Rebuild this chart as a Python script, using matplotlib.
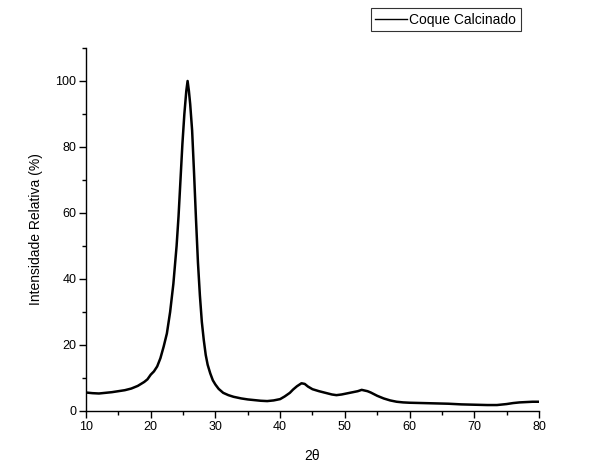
import matplotlib
matplotlib.use("Agg")
import matplotlib.pyplot as plt
from matplotlib.ticker import MultipleLocator

plt.rcParams['font.family'] = ['Liberation Sans', 'DejaVu Sans']

two_theta = [10, 11, 12, 13, 14, 15, 16, 17, 18, 19, 19.5, 20, 20.5, 21, 21.5,
             22, 22.5, 23, 23.5, 24, 24.3, 24.6, 24.9, 25.2, 25.5, 25.7, 25.9,
             26.1, 26.4, 26.7, 27.0, 27.3, 27.6, 27.9, 28.2, 28.5, 28.8, 29.2,
             29.6, 30.0, 30.5, 31.2, 32.0, 32.8, 34, 35, 36, 37, 38, 39, 40,
             40.7, 41.5, 42, 42.6, 43.3, 43.8, 44.3, 45, 46, 47, 48, 48.7, 49.5,
             50, 51, 52, 52.6, 53.5, 54, 55, 56, 57, 58, 59, 60, 62, 64, 66, 68,
             70, 72, 73.5, 75, 76, 77, 78, 79, 80]
intensity = [5.6, 5.4, 5.3, 5.5, 5.7, 6.0, 6.3, 6.8, 7.6, 8.8, 9.6, 11.0, 12.0,
             13.5, 16.0, 19.5, 23.5, 30, 38.5, 50, 59, 70, 81, 90, 97, 100, 97,
             93, 85, 72, 58, 45, 35, 27, 21.5, 17, 14, 11.4, 9.3, 8.0, 6.7,
             5.5, 4.8, 4.3, 3.8, 3.5, 3.3, 3.1, 3.0, 3.2, 3.6, 4.4, 5.5, 6.5,
             7.5, 8.4, 8.2, 7.4, 6.6, 6.0, 5.5, 5.0, 4.8, 5.0, 5.2, 5.6, 6.0,
             6.4, 6.0, 5.6, 4.6, 3.8, 3.2, 2.8, 2.6, 2.5, 2.4, 2.3, 2.2, 2.0,
             1.9, 1.8, 1.8, 2.1, 2.4, 2.6, 2.7, 2.8, 2.8]
series_label = "Coque Calcinado"

fig = plt.figure(figsize=(6.16, 4.69), dpi=100)
ax = fig.add_axes([0.1396, 0.1237, 0.875 - 0.1396, 0.8977 - 0.1237])
ax.plot(two_theta, intensity, color='black', lw=1.8, label=series_label,
        solid_joinstyle='round')

ax.set_xlim(10, 80)
ax.set_ylim(0, 110)
ax.xaxis.set_major_locator(MultipleLocator(10))
ax.xaxis.set_minor_locator(MultipleLocator(5))
ax.yaxis.set_major_locator(MultipleLocator(20))
ax.yaxis.set_minor_locator(MultipleLocator(10))
ax.spines['top'].set_visible(False)
ax.spines['right'].set_visible(False)
for s in ('left', 'bottom'):
    ax.spines[s].set_linewidth(1.0)
ax.tick_params(which='major', direction='out', length=5, width=1.0,
               labelsize=9, pad=2, colors='black')
ax.tick_params(which='minor', direction='out', length=3, width=1.0)

ax.set_xlabel("2θ", fontsize=10, labelpad=12)
ax.set_ylabel("Intensidade Relativa (%)", fontsize=10, labelpad=9)

leg = fig.legend(loc='upper right', bbox_to_anchor=(0.845, 0.982),
                 fontsize=10, frameon=True, fancybox=False, handlelength=2.3,
                 handletextpad=0.2, borderpad=0.3, borderaxespad=0)
leg.get_frame().set_edgecolor('black')
leg.get_frame().set_linewidth(0.8)
for h in leg.get_lines():
    h.set_linewidth(1.0)

fig.savefig("out.png", dpi=100)
